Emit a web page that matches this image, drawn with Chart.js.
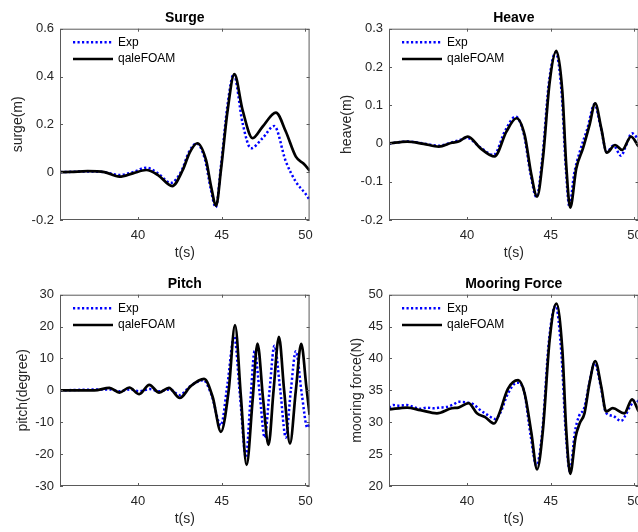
<!DOCTYPE html>
<html>
<head>
<meta charset="utf-8">
<script src="https://cdn.jsdelivr.net/npm/chart.js@4.4.1/dist/chart.umd.min.js"></script>
<style>
  html, body { margin: 0; padding: 0; background: #fff; overflow: hidden; }
  #wrap { position: relative; width: 638px; height: 532px; overflow: hidden; }
  canvas { position: absolute; }
</style>
</head>
<body>
<div id="wrap">
  <canvas id="surge" width="320" height="266" style="left:0;top:0"></canvas>
  <canvas id="heave" width="320" height="266" style="left:329px;top:0"></canvas>
  <canvas id="pitch" width="320" height="266" style="left:0;top:266px"></canvas>
  <canvas id="mooring" width="320" height="266" style="left:329px;top:266px"></canvas>
</div>
<script>
// time axis
const tMin = 35.35, tMax = 50.25;
const timeTicks = [40, 45, 50];

// Surge
const surgeTicks = [-0.2, 0, 0.2, 0.4, 0.6];
const surgeTExp = [35.35, 37.0, 38.0, 38.9, 39.7, 40.5, 41.2, 41.97, 42.6, 43.05, 43.5, 44.0, 44.35, 44.65, 44.95, 45.35, 45.72, 46.25, 46.75, 47.44, 48.14, 48.83, 49.43, 49.98, 50.25];
const surgeExp  = [0, 0.003, 0.0, -0.012, 0.0, 0.019, -0.005, -0.045, 0.005, 0.085, 0.12, 0.055, -0.07, -0.147, 0.02, 0.28, 0.41, 0.205, 0.10, 0.142, 0.193, 0.045, -0.04, -0.088, -0.115];
const surgeTCfd = [35.35, 36.0, 37.0, 38.0, 38.9, 39.7, 40.5, 41.2, 42.05, 42.68, 43.08, 43.54, 44.07, 44.37, 44.67, 44.96, 45.36, 45.76, 46.25, 46.85, 47.44, 48.24, 48.83, 49.43, 49.9, 50.28];
const surgeCfd  = [0, 0.001, 0.004, 0.0, -0.019, -0.005, 0.009, -0.012, -0.058, 0.009, 0.08, 0.121, 0.05, -0.06, -0.14, 0.01, 0.26, 0.41, 0.26, 0.142, 0.19, 0.249, 0.17, 0.065, 0.035, 0.005];

// Heave
const heaveTicks = [-0.2, -0.1, 0, 0.1, 0.2, 0.3];
const heaveTExp = [35.35, 36.43, 37.42, 38.32, 39.1, 39.5, 40.0, 40.8, 41.6, 42.3, 42.9, 43.4, 43.8, 44.15, 44.5, 44.9, 45.3, 45.66, 45.9, 46.12, 46.4, 46.75, 47.2, 47.62, 48.0, 48.35, 48.75, 49.2, 49.5, 49.85, 50.25];
const heaveExp  = [0, 0.005, 0, -0.006, 0.003, 0.008, 0.015, -0.01, -0.03, 0.035, 0.07, 0.025, -0.08, -0.14, -0.04, 0.16, 0.238, 0.13, -0.06, -0.165, -0.08, -0.02, 0.04, 0.103, 0.04, -0.022, -0.005, -0.032, -0.005, 0.027, 0.01];
const heaveTCfd = [35.35, 36.43, 37.42, 38.32, 39.1, 39.5, 40.06, 40.8, 41.65, 42.36, 42.96, 43.45, 43.85, 44.19, 44.54, 44.94, 45.34, 45.7, 45.93, 46.17, 46.53, 46.93, 47.32, 47.66, 48.02, 48.35, 48.85, 49.27, 49.8, 50.25];
const heaveCfd  = [0, 0.005, -0.001, -0.008, 0.002, 0.005, 0.018, -0.012, -0.034, 0.031, 0.066, 0.022, -0.082, -0.139, -0.039, 0.16, 0.242, 0.135, -0.056, -0.168, -0.065, -0.013, 0.048, 0.105, 0.04, -0.024, -0.004, -0.017, 0.018, -0.008];

// Pitch
const pitchTicks = [-30, -20, -10, 0, 10, 20, 30];
const pitchTExp = [35.35, 38.3, 38.9, 39.5, 40.1, 40.7, 41.3, 41.9, 42.5, 43.1, 43.9, 44.4, 44.95, 45.35, 45.75, 46.1, 46.45, 46.72, 46.97, 47.27, 47.57, 47.86, 48.15, 48.5, 48.83, 49.13, 49.43, 49.78, 50.12, 50.25];
const pitchExp  = [0, 0.3, -0.3, 0.3, -0.3, 0.4, -0.3, 0.3, -1.5, 1.2, 3.2, -1.5, -11, 2, 17, -2, -21, -3, 12.3, -1, -14.8, 0, 14, 0, -14.8, 0, 12.3, -1, -11.7, -10.5];
const pitchTCfd = [35.35, 37.4, 38.3, 38.9, 39.49, 40.08, 40.68, 41.27, 41.85, 42.5, 43.15, 43.95, 44.46, 44.96, 45.42, 45.8, 46.15, 46.49, 46.85, 47.14, 47.48, 47.8, 48.1, 48.42, 48.73, 49.08, 49.43, 49.75, 50.06, 50.25];
const pitchCfd  = [0, 0, 0.8, -0.7, 0.9, -1.2, 1.7, -0.7, 0.8, -2.4, 1.3, 3.6, -2, -13, 0, 20.5, -2, -23.4, -3, 14.7, -3, -17.1, 0, 16.8, 0, -16.7, 0, 14.6, 1, -7.7];

// Mooring force
const mooringTicks = [20, 25, 30, 35, 40, 45, 50];
const mooringTExp = [35.35, 35.6, 36.0, 36.4, 36.8, 37.2, 37.6, 38.0, 38.4, 38.8, 39.2, 39.5, 40.0, 40.4, 40.8, 41.2, 41.7, 42.0, 42.45, 43.0, 43.4, 43.8, 44.15, 44.5, 44.9, 45.3, 45.65, 45.9, 46.15, 46.45, 46.7, 47.0, 47.3, 47.62, 48.0, 48.3, 48.71, 49.21, 49.45, 49.75, 50.1, 50.25];
const mooringExp  = [32.3, 32.7, 32.6, 32.7, 32.4, 32.1, 32.3, 32.2, 32.3, 32.4, 32.8, 33.2, 33.1, 32.8, 31.9, 31.2, 30.5, 31.5, 34.5, 36.2, 35.0, 28.0, 23.2, 28.5, 42.8, 48.3, 40.5, 28.5, 22.3, 28.5, 31.0, 32.2, 36.0, 39.3, 35.5, 31.5, 31.0, 30.2, 31.0, 32.5, 33.5, 33.2];
const mooringTCfd = [35.35, 36.43, 37.22, 38.21, 39.1, 39.5, 40.1, 40.6, 41.09, 41.63, 41.95, 42.44, 43.06, 43.45, 43.85, 44.19, 44.54, 44.94, 45.34, 45.7, 45.93, 46.17, 46.49, 46.73, 47.02, 47.32, 47.66, 48.02, 48.31, 48.71, 49.4, 49.86, 50.25];
const mooringCfd  = [32.0, 32.3, 31.9, 31.4, 32.2, 32.3, 33.0, 31.4, 30.8, 29.8, 31.5, 35.2, 36.6, 34.5, 28.3, 22.6, 28.8, 42.9, 48.6, 41.3, 28.8, 21.9, 27.7, 29.8, 31.4, 36.1, 39.6, 35.6, 31.7, 32.2, 31.4, 33.6, 31.7];

Chart.defaults.font.family = '"Liberation Sans", Arial, sans-serif';
Chart.defaults.color = '#262626';

const pairs = (ts, vs) => ts.map((t, i) => ({ x: t, y: vs[i] }));

// box, inward ticks and legend inside the axes, MATLAB style
const boxPlugin = {
  id: 'box',
  afterDatasetsDraw(chart) {
    const { ctx, chartArea: a, scales } = chart;
    ctx.save();
    ctx.strokeStyle = '#5a5a5a';
    ctx.lineWidth = 1;
    ctx.strokeRect(a.left + 0.5, a.top + 0.5, a.right - a.left - 1, a.bottom - a.top - 1);
    ctx.beginPath();
    timeTicks.forEach(v => {
      const x = Math.round(scales.x.getPixelForValue(v)) + 0.5;
      ctx.moveTo(x, a.bottom); ctx.lineTo(x, a.bottom - 3);
      ctx.moveTo(x, a.top); ctx.lineTo(x, a.top + 3);
    });
    scales.y.ticks.forEach(t => {
      const y = Math.round(scales.y.getPixelForValue(t.value)) + 0.5;
      ctx.moveTo(a.left, y); ctx.lineTo(a.left + 3, y);
      ctx.moveTo(a.right, y); ctx.lineTo(a.right - 3, y);
    });
    ctx.stroke();

    ctx.font = '12px "Liberation Sans", Arial, sans-serif';
    ctx.textBaseline = 'middle';
    ctx.fillStyle = '#000';
    chart.data.datasets.forEach((ds, i) => {
      const y = a.top + 13.5 + i * 16.8;
      ctx.beginPath();
      ctx.strokeStyle = ds.borderColor;
      ctx.lineWidth = ds.borderWidth;
      ctx.setLineDash(ds.borderDash || []);
      ctx.moveTo(a.left + 13, y); ctx.lineTo(a.left + 53, y);
      ctx.stroke();
      ctx.setLineDash([]);
      ctx.fillText(ds.label, a.left + 58, y);
    });
    ctx.restore();
  }
};

function panel(id, title, yLabel, yTicks, tExp, exp, tCfd, cfd, yTitlePad) {
  new Chart(document.getElementById(id), {
    type: 'line',
    data: {
      datasets: [
        { label: 'Exp', data: pairs(tExp, exp), borderColor: '#0000ff', borderWidth: 2.5,
          borderDash: [2.2, 2.3], pointRadius: 0, cubicInterpolationMode: 'monotone', order: 1 },
        { label: 'qaleFOAM', data: pairs(tCfd, cfd), borderColor: '#000000', borderWidth: 2.7,
          pointRadius: 0, cubicInterpolationMode: 'monotone', order: 0 }
      ]
    },
    options: {
      responsive: false,
      animation: false,
      events: [],
      layout: { padding: { right: 10 } },
      plugins: {
        legend: { display: false },
        tooltip: { enabled: false },
        title: { display: true, text: title, fullSize: false, color: '#000',
                 font: { size: 14, weight: 'bold' }, padding: { top: 9.9, bottom: 2 } }
      },
      scales: {
        x: {
          type: 'linear', min: tMin, max: tMax,
          afterBuildTicks: s => { s.ticks = timeTicks.map(v => ({ value: v })); },
          afterFit: s => { s.height = 46; },
          grid: { display: false, drawTicks: false },
          border: { display: false },
          ticks: { font: { size: 13 }, padding: 7.2, maxRotation: 0, callback: v => String(v) },
          title: { display: true, text: 't(s)', font: { size: 14 }, padding: { top: 0, bottom: 4.3 } }
        },
        y: {
          type: 'linear', min: yTicks[0], max: yTicks[yTicks.length - 1],
          afterBuildTicks: s => { s.ticks = yTicks.map(v => ({ value: v })); },
          afterFit: s => { s.width = 60; },
          grid: { display: false, drawTicks: false },
          border: { display: false },
          ticks: { font: { size: 13 }, padding: 6, callback: v => String(v) },
          title: { display: true, text: yLabel, font: { size: 14 }, padding: { top: yTitlePad, bottom: 0 } }
        }
      }
    },
    plugins: [boxPlugin]
  });
}

panel('surge', 'Surge', 'surge(m)', surgeTicks, surgeTExp, surgeExp, surgeTCfd, surgeCfd, 9.9);
panel('heave', 'Heave', 'heave(m)', heaveTicks, heaveTExp, heaveExp, heaveTCfd, heaveCfd, 9.9);
panel('pitch', 'Pitch', 'pitch(degree)', pitchTicks, pitchTExp, pitchExp, pitchTCfd, pitchCfd, 14.3);
panel('mooring', 'Mooring Force', 'mooring force(N)', mooringTicks, mooringTExp, mooringExp, mooringTCfd, mooringCfd, 19.9);
</script>
</body>
</html>
